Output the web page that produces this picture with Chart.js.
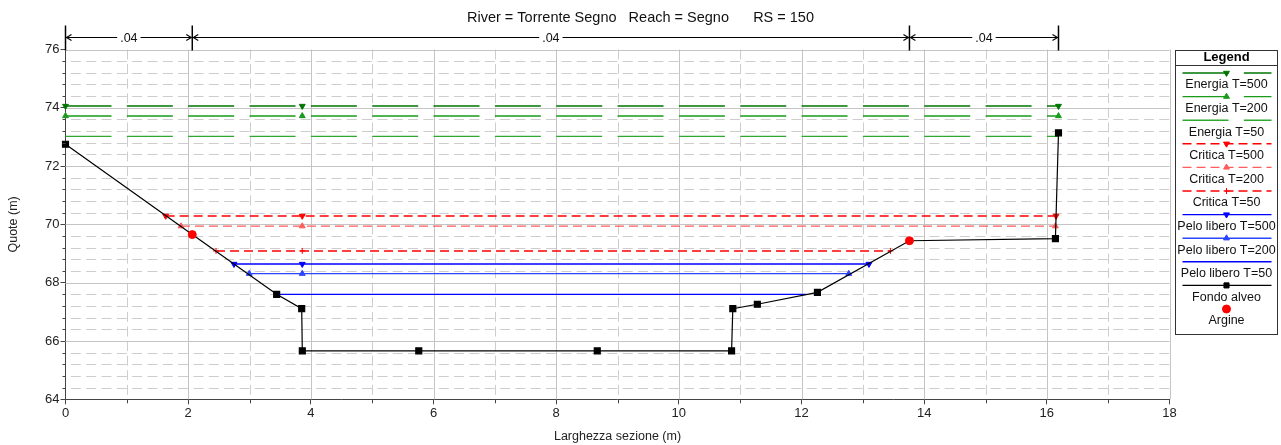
<!DOCTYPE html>
<html>
<head>
<meta charset="utf-8">
<title>Sezione RS 150</title>
<script src="https://cdn.jsdelivr.net/npm/chart.js@4.4.0/dist/chart.umd.min.js"></script>
<style>
  html, body { margin: 0; padding: 0; background: #fff; }
  #wrap { width: 1281px; height: 445px; }
</style>
</head>
<body>
<div id="wrap"><canvas id="sezione" width="1281" height="445"></canvas></div>
<script>
// --- Sezione trasversale Torrente Segno, RS 150 ---
const intestazione = 'River = Torrente Segno   Reach = Segno      RS = 150';

// Fondo alveo (stazione m, quota m)
const fondoX = [0, 2.067, 3.443, 3.851, 3.861, 5.76, 8.67, 10.86, 10.88, 11.28, 12.26, 13.76, 16.14, 16.19];
const fondoY = [72.75, 69.65, 67.60, 67.11, 65.66, 65.66, 65.66, 65.66, 67.11, 67.26, 67.67, 69.44, 69.51, 73.14];

// Argini (sponde)
const argineX = [2.067, 13.76];
const argineY = [69.65, 69.44];

const tempi = ['T=500', 'T=200', 'T=50'];

// Profili: quota e estremi sinistro/destro per ogni tempo di ritorno
const energiaQuote = [74.06, 73.72, 73.02];
const energiaSx = [0, 0, 0];
const energiaDx = [16.19, 16.19, 16.19];

const criticaQuote = [70.29, 69.94, 69.09];
const criticaSx = [1.633, 1.883, 2.454];
const criticaDx = [16.15, 16.14, 13.45];

const peloQuote = [68.64, 68.31, 67.60];
const peloSx = [2.747, 2.996, 3.443];
const peloDx = [13.10, 12.77, 12.08];

// stazione del simbolo centrale sui profili
const xSimbolo = 3.86;

// Manning: limiti delle zone e valori di n
const manningLimiti = [0, 2.067, 13.76, 16.19];
const manningN = ['.04', '.04', '.04'];

// etichette degli assi
const tickX = [0, 2, 4, 6, 8, 10, 12, 14, 16, 18];
const tickY = [64, 66, 68, 70, 72, 74, 76];

const FONT = "'Liberation Sans', Arial, sans-serif";

// --- stili ---
const stileEnergia = [
  { borderColor: '#007500', pointStyle: 'triangle', pointRotation: 180, pointRadius: 3.4 },
  { borderColor: '#1a9a1a', pointStyle: 'triangle', pointRotation: 0, pointRadius: 3.4 },
  { borderColor: '#2ea82e', pointStyle: false, pointRadius: 0 }
];
const stileCritica = [
  { borderColor: '#ff0000', pointStyle: 'triangle', pointRotation: 180, pointRadius: 3.4 },
  { borderColor: '#ff5c5c', pointStyle: 'triangle', pointRotation: 0, pointRadius: 3.4 },
  { borderColor: '#ff0000', pointStyle: 'cross', pointRotation: 0, pointRadius: 3 }
];
const stilePelo = [
  { borderColor: '#0000ff', pointStyle: 'triangle', pointRotation: 180, pointRadius: 3.4 },
  { borderColor: '#2b46ff', pointStyle: 'triangle', pointRotation: 0, pointRadius: 3.4 },
  { borderColor: '#0000ff', pointStyle: false, pointRadius: 0 }
];

function profilo(nome, quota, sx, dx, stile, extra) {
  return {
    label: nome,
    data: [{ x: sx, y: quota }, { x: xSimbolo, y: quota }, { x: dx, y: quota }],
    showLine: true,
    borderWidth: 1.4,
    pointBackgroundColor: stile.borderColor,
    pointBorderColor: stile.borderColor,
    pointBorderWidth: 1,
    clip: false,
    order: 2,
    ...stile,
    ...extra
  };
}

const datasets = [];
tempi.forEach((t, i) => datasets.push(profilo('Energia ' + t, energiaQuote[i], energiaSx[i], energiaDx[i], stileEnergia[i], { borderDash: [46, 15.34] })));
tempi.forEach((t, i) => datasets.push(profilo('Critica ' + t, criticaQuote[i], criticaSx[i], criticaDx[i], stileCritica[i], { borderDash: [9, 5] })));
tempi.forEach((t, i) => datasets.push(profilo('Pelo libero ' + t, peloQuote[i], peloSx[i], peloDx[i], stilePelo[i], {})));

datasets.push({
  label: 'Fondo alveo',
  data: fondoX.map((x, i) => ({ x, y: fondoY[i] })),
  showLine: true,
  borderColor: '#000',
  borderWidth: 1.2,
  pointStyle: 'rect',
  pointRadius: ctx => (ctx.raw && argineX.includes(ctx.raw.x) ? 0 : 4.2),
  pointBackgroundColor: '#000',
  pointBorderColor: '#000',
  clip: false,
  order: 1
});
datasets.push({
  label: 'Argine',
  data: argineX.map((x, i) => ({ x, y: argineY[i] })),
  showLine: false,
  pointStyle: 'circle',
  pointRadius: 4,
  pointBackgroundColor: '#ff0000',
  pointBorderColor: '#ff0000',
  clip: false,
  order: 0
});

// --- griglia: linee principali piene, secondarie tratteggiate ---
const grigliaSezione = {
  id: 'grigliaSezione',
  beforeDatasetsDraw(chart) {
    const { ctx, chartArea: a, scales: { x, y } } = chart;
    ctx.save();
    ctx.lineWidth = 1;

    ctx.strokeStyle = '#cdcdcd';
    ctx.setLineDash([10, 5.33]);
    ctx.lineDashOffset = 10;
    for (let k = 1; k < 30; k++) {
      if (k % 5 === 0) continue;
      const py = Math.round(y.getPixelForValue(y.min + k * 0.4)) + 0.5;
      ctx.beginPath(); ctx.moveTo(a.left, py); ctx.lineTo(a.right, py); ctx.stroke();
    }
    ctx.setLineDash([10, 4.58]);
    ctx.lineDashOffset = 0;
    for (let v = 1; v < 18; v += 2) {
      const px = Math.round(x.getPixelForValue(v)) + 0.5;
      ctx.beginPath(); ctx.moveTo(px, a.top); ctx.lineTo(px, a.bottom); ctx.stroke();
    }

    ctx.setLineDash([]);
    ctx.strokeStyle = '#c4c4c4';
    tickY.slice(1).forEach(v => {
      const py = Math.round(y.getPixelForValue(v)) + 0.5;
      ctx.beginPath(); ctx.moveTo(a.left, py); ctx.lineTo(a.right, py); ctx.stroke();
    });
    tickX.slice(1).forEach(v => {
      const px = Math.round(x.getPixelForValue(v)) + 0.5;
      ctx.beginPath(); ctx.moveTo(px, a.top); ctx.lineTo(px, a.bottom); ctx.stroke();
    });
    ctx.restore();
  },
  afterDraw(chart) {
    // tacche secondarie sugli assi
    const { ctx, chartArea: a, scales: { x, y } } = chart;
    ctx.save();
    ctx.strokeStyle = '#444';
    ctx.lineWidth = 1;
    for (let k = 1; k < 30; k++) {
      if (k % 5 === 0) continue;
      const py = Math.round(y.getPixelForValue(y.min + k * 0.4)) + 0.5;
      ctx.beginPath(); ctx.moveTo(a.left - 3, py); ctx.lineTo(a.left, py); ctx.stroke();
    }
    for (let v = 1; v < 18; v += 2) {
      const px = Math.round(x.getPixelForValue(v)) + 0.5;
      ctx.beginPath(); ctx.moveTo(px, a.bottom); ctx.lineTo(px, a.bottom + 4); ctx.stroke();
    }
    ctx.restore();
  }
};

// --- intestazione e zone di Manning sopra il grafico ---
const manningSezione = {
  id: 'manningSezione',
  afterDraw(chart) {
    const { ctx, chartArea: a, scales: { x } } = chart;
    ctx.save();
    ctx.fillStyle = '#111';
    ctx.font = '14.5px ' + FONT;
    ctx.textAlign = 'center';
    ctx.textBaseline = 'middle';
    ctx.fillText(intestazione, chart.width / 2, 17.5);

    const yF = a.top - 12;
    ctx.strokeStyle = '#000';
    ctx.lineWidth = 1.5;
    manningLimiti.forEach(v => {
      const px = x.getPixelForValue(v);
      ctx.beginPath(); ctx.moveTo(px, a.top - 24); ctx.lineTo(px, a.top + 1); ctx.stroke();
    });
    ctx.font = '12.5px ' + FONT;
    ctx.lineWidth = 1.1;
    manningN.forEach((n, i) => {
      const p1 = x.getPixelForValue(manningLimiti[i]);
      const p2 = x.getPixelForValue(manningLimiti[i + 1]);
      const mid = (p1 + p2) / 2;
      const w = ctx.measureText(n).width;
      ctx.beginPath();
      ctx.moveTo(p1 + 1, yF); ctx.lineTo(mid - w / 2 - 3, yF);
      ctx.moveTo(mid + w / 2 + 3, yF); ctx.lineTo(p2 - 1, yF);
      // punte delle frecce
      ctx.moveTo(p1 + 6, yF - 3); ctx.lineTo(p1 + 1, yF); ctx.lineTo(p1 + 6, yF + 3);
      ctx.moveTo(p2 - 6, yF - 3); ctx.lineTo(p2 - 1, yF); ctx.lineTo(p2 - 6, yF + 3);
      ctx.stroke();
      ctx.fillText(n, mid, yF + 1.5);
    });
    ctx.restore();
  }
};

// --- legenda a destra: campione sopra, testo sotto ---
const legendaSezione = {
  id: 'legendaSezione',
  afterDraw(chart) {
    const { ctx, chartArea: a } = chart;
    const left = Math.round(a.right) + 5.5, right = 1277.5, top = 50.5, bottom = 334.5;
    ctx.save();
    ctx.strokeStyle = '#333';
    ctx.lineWidth = 1;
    ctx.strokeRect(left, top, right - left, bottom - top);
    ctx.beginPath(); ctx.moveTo(left, top + 15); ctx.lineTo(right, top + 15); ctx.stroke();

    ctx.fillStyle = '#000';
    ctx.textAlign = 'center';
    ctx.textBaseline = 'middle';
    ctx.font = 'bold 13px ' + FONT;
    const cx = (left + right) / 2;
    ctx.fillText('Legend', cx, top + 7);

    ctx.font = '12.5px ' + FONT;
    const x1 = left + 7, x2 = right - 6;
    chart.data.datasets.forEach((ds, i) => {
      const ys = top + 22.5 + i * 23.6;
      if (ds.showLine) {
        ctx.save();
        ctx.strokeStyle = ds.borderColor;
        ctx.lineWidth = ds.borderWidth;
        ctx.setLineDash(ds.borderDash || []);
        ctx.beginPath(); ctx.moveTo(x1, ys); ctx.lineTo(x2, ys); ctx.stroke();
        ctx.restore();
      }
      if (ds.pointStyle) {
        ctx.save();
        ctx.fillStyle = ds.pointBackgroundColor;
        ctx.strokeStyle = ds.pointBorderColor;
        ctx.lineWidth = 1;
        const r = typeof ds.pointRadius === 'number' ? ds.pointRadius : 3.6;
        Chart.helpers.drawPoint(ctx, { pointStyle: ds.pointStyle, rotation: ds.pointRotation || 0, radius: r, borderWidth: 1 }, cx, ys);
        ctx.restore();
      }
      ctx.fillStyle = '#111';
      ctx.fillText(ds.label, cx, ys + 12);
    });
    ctx.restore();
  }
};

new Chart(document.getElementById('sezione'), {
  type: 'scatter',
  data: { datasets },
  options: {
    responsive: false,
    animation: false,
    events: [],
    layout: { padding: { top: 49.5, right: 111.5, left: 0, bottom: 0 } },
    plugins: {
      legend: { display: false },
      tooltip: { enabled: false },
      title: { display: false }
    },
    scales: {
      x: {
        type: 'linear',
        min: 0,
        max: 18,
        afterBuildTicks: s => { s.ticks = tickX.map(v => ({ value: v })); },
        afterFit: s => { s.height = 45.7; },
        grid: { drawOnChartArea: false, drawTicks: true, tickLength: 5, tickColor: '#444' },
        border: { display: true, color: '#444', width: 1 },
        ticks: { color: '#222', font: { family: FONT, size: 13 }, padding: 1, maxRotation: 0 },
        title: { display: true, text: 'Larghezza sezione (m)', color: '#222', font: { family: FONT, size: 12.5 }, padding: { top: 0, bottom: 1 } }
      },
      y: {
        type: 'linear',
        min: 64,
        max: 76,
        afterBuildTicks: s => { s.ticks = tickY.map(v => ({ value: v })); },
        afterFit: s => { s.width = 65.5; },
        grid: { drawOnChartArea: false, drawTicks: true, tickLength: 5, tickColor: '#444' },
        border: { display: true, color: '#444', width: 1 },
        ticks: { color: '#222', font: { family: FONT, size: 13 }, padding: 1 },
        title: { display: true, text: 'Quote (m)', color: '#222', font: { family: FONT, size: 12.5 }, padding: { top: 6, bottom: 0 } }
      }
    }
  },
  plugins: [grigliaSezione, manningSezione, legendaSezione]
});
</script>
</body>
</html>
